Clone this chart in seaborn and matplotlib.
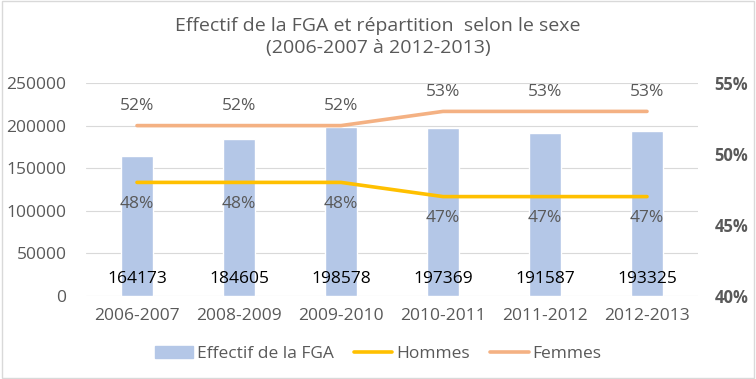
import matplotlib
matplotlib.use("Agg")
import matplotlib.pyplot as plt
import seaborn as sns
import pandas as pd
from matplotlib.patches import Rectangle
from matplotlib.lines import Line2D

# data
annees = ["2006-2007", "2008-2009", "2009-2010", "2010-2011", "2011-2012", "2012-2013"]
effectif = [164173, 184605, 198578, 197369, 191587, 193325]
hommes = [48, 48, 48, 47, 47, 47]
femmes = [52, 52, 52, 53, 53, 53]

sns.set_style("white")
plt.rcParams["font.family"] = ["Open Sans", "DejaVu Sans"]

bar_col = "#B4C7E7"
h_col = "#FFC000"
f_col = "#F4B183"
txt = "#595959"

df = pd.DataFrame({"annee": annees, "effectif": effectif})

fig = plt.figure(figsize=(7.56, 3.79), dpi=100)
# plot area: x 86..698 px, y 83..296 px
ax = fig.add_axes([86 / 756, 1 - 296 / 379, 612 / 756, 213 / 379])

sns.barplot(data=df, x="annee", y="effectif", color=bar_col, width=0.32,
            saturation=1, ax=ax)
ax.set_ylim(0, 250000)
ax.set_yticks(range(0, 250001, 50000))
ax.grid(axis="y", color="#D9D9D9", linewidth=0.8)
ax.set_axisbelow(True)
for s in ax.spines.values():
    s.set_visible(False)
ax.tick_params(axis="y", length=0, labelsize=12.5, labelcolor=txt, pad=14)
ax.tick_params(axis="x", length=0, labelsize=12.5, labelcolor=txt, pad=9)
ax.set_xlabel("")
ax.set_ylabel("")
ax.set_xlim(-0.5, 5.5)

for i, v in enumerate(effectif):
    ax.text(i, 20000, str(v), ha="center", va="center", fontsize=12.5, color="black")

ax2 = ax.twinx()
x = list(range(len(annees)))
sns.lineplot(x=x, y=hommes, color=h_col, linewidth=2.6, ax=ax2,
             solid_capstyle="round")
sns.lineplot(x=x, y=femmes, color=f_col, linewidth=2.6, ax=ax2,
             solid_capstyle="round")
ax2.set_ylim(40, 55)
ax2.set_yticks([40, 45, 50, 55])
ax2.set_yticklabels([f"{t}%" for t in [40, 45, 50, 55]])
ax2.tick_params(axis="y", length=0, labelsize=12, labelcolor=txt, pad=12)
for lab in ax2.get_yticklabels():
    lab.set_fontweight("bold")
for s in ax2.spines.values():
    s.set_visible(False)
ax2.set_xlim(-0.5, 5.5)

for i in x:
    ax2.text(i, hommes[i] - 1.5, f"{hommes[i]}%", ha="center", va="center", fontsize=12.5, color=txt)
    ax2.text(i, femmes[i] + 1.4, f"{femmes[i]}%", ha="center", va="center", fontsize=12.5, color=txt)

fig.text(0.5, 1 - 37 / 379, "Effectif de la FGA et répartition  selon le sexe\n(2006-2007 à 2012-2013)",
         ha="center", va="center", fontsize=14, color=txt, linespacing=1.3)

handles = [Rectangle((0, 0), 1, 1, color=bar_col),
           Line2D([0], [0], color=h_col, linewidth=2.6),
           Line2D([0], [0], color=f_col, linewidth=2.6)]
fig.legend(handles, ["Effectif de la FGA", "Hommes", "Femmes"], loc="center",
           bbox_to_anchor=(0.5, 1 - 354 / 379), ncol=3, frameon=False, fontsize=12.5,
           labelcolor=txt, handlelength=2.2, handletextpad=0.2, columnspacing=1.2)

fig.patches.append(Rectangle((0.002, 0.003), 0.996, 0.994, transform=fig.transFigure,
                             fill=False, edgecolor="#D9D9D9", linewidth=1))

fig.savefig("out.png", dpi=100)
